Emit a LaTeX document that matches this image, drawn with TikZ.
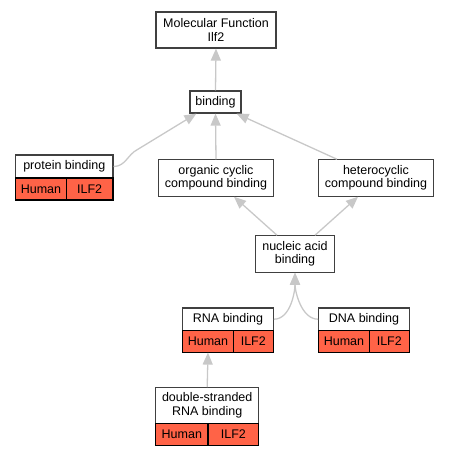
\documentclass[tikz,border=0pt]{standalone}
\usepackage{fontspec}
\setmainfont{Liberation Sans}
\usetikzlibrary{arrows.meta,calc}
\definecolor{edgegray}{HTML}{C8C8C8}
\definecolor{cellred}{HTML}{FF6347}
\definecolor{boxline}{HTML}{404040}
\begin{document}
\begin{tikzpicture}[x=1pt,y=-1pt,
  termbox/.style={draw=boxline, line width=1.2pt, fill=white, inner sep=0pt, align=center, text=black, font=\fontsize{12.5}{13.5}\selectfont},
  cellbox/.style={draw=black, line width=1.1pt, fill=cellred, inner sep=0pt, text=black, font=\fontsize{12.5}{13.5}\selectfont, minimum height=22pt},
  edge/.style={draw=edgegray, line width=1.3pt, -{Triangle[width=10pt,length=12pt]}}]
\useasboundingbox (0,0) rectangle (449,456);
% term nodes
\node[termbox, minimum width=120pt, minimum height=36pt] (mf) at (216,30) {Molecular Function\\Ilf2};
\node[termbox, minimum width=51pt, minimum height=22pt] (bind) at (215.5,102) {binding};
\node[termbox, minimum width=114.7pt, minimum height=36.3pt] (org) at (216,178) {organic cyclic\\compound binding};
\node[termbox, minimum width=114.7pt, minimum height=36.3pt] (het) at (376,178) {heterocyclic\\compound binding};
\node[termbox, minimum width=78.7pt, minimum height=36.3pt] (nuc) at (295,254) {nucleic acid\\binding};
% protein binding
\node[termbox, minimum width=97.3pt, minimum height=23pt] (prot) at (64.3,166.5) {protein binding};
\node[cellbox, minimum width=50.6pt] (protH) at (41,189) {Human};
\node[cellbox, minimum width=46.7pt] (protI) at (89.65,189) {ILF2};
% RNA binding
\node[termbox, minimum width=90.6pt, minimum height=22.3pt] (rna) at (228,319.2) {RNA binding};
\node[cellbox, minimum width=50.6pt, minimum height=21.7pt] (rnaH) at (208,341.2) {Human};
\node[cellbox, minimum width=40pt, minimum height=21.7pt] (rnaI) at (253.3,341.2) {ILF2};
% DNA binding
\node[termbox, minimum width=90.6pt, minimum height=22.3pt] (dna) at (364,319.2) {DNA binding};
\node[cellbox, minimum width=50.6pt, minimum height=21.7pt] (dnaH) at (344,341.2) {Human};
\node[cellbox, minimum width=40pt, minimum height=21.7pt] (dnaI) at (389.3,341.2) {ILF2};
% double-stranded RNA binding
\node[termbox, minimum width=103pt, minimum height=35.6pt] (ds) at (207.2,405.5) {double-stranded\\RNA binding};
\node[cellbox, minimum width=52.3pt] (dsH) at (181.85,434.3) {Human};
\node[cellbox, minimum width=50.7pt] (dsI) at (233.35,434.3) {ILF2};
% edges
\draw[edge] (bind.north) -- (mf.south);
\draw[edge] (org.north) -- (bind.south);
\draw[edge] (prot.east) .. controls ($(prot.east)+(12,0)$) and ($(prot.east)+(14,-12)$) .. ($(prot.east)+(24,-17)$) -- ($(bind.south west)+(7,0)$);
\draw[edge] ($(het.north)+(-39,0)$) -- ($(bind.south east)+(-5,0)$);
\draw[edge] ($(nuc.north)+(-18,0)$) -- ($(org.south)+(18,0)$);
\draw[edge] ($(nuc.north)+(20,0)$) -- ($(het.south)+(-18,0)$);
\draw[edge] (rna.east) .. controls ($(rna.east)+(17,0)$) and ($(nuc.south)+(0,18)$) .. ($(nuc.south)+(0,12)$) -- (nuc.south);
\draw[edge] (dna.west) .. controls ($(dna.west)+(-17,0)$) and ($(nuc.south)+(0,18)$) .. ($(nuc.south)+(0,12)$) -- (nuc.south);
\draw[edge] (ds.north) -- (rnaH.south);
\end{tikzpicture}
\end{document}
